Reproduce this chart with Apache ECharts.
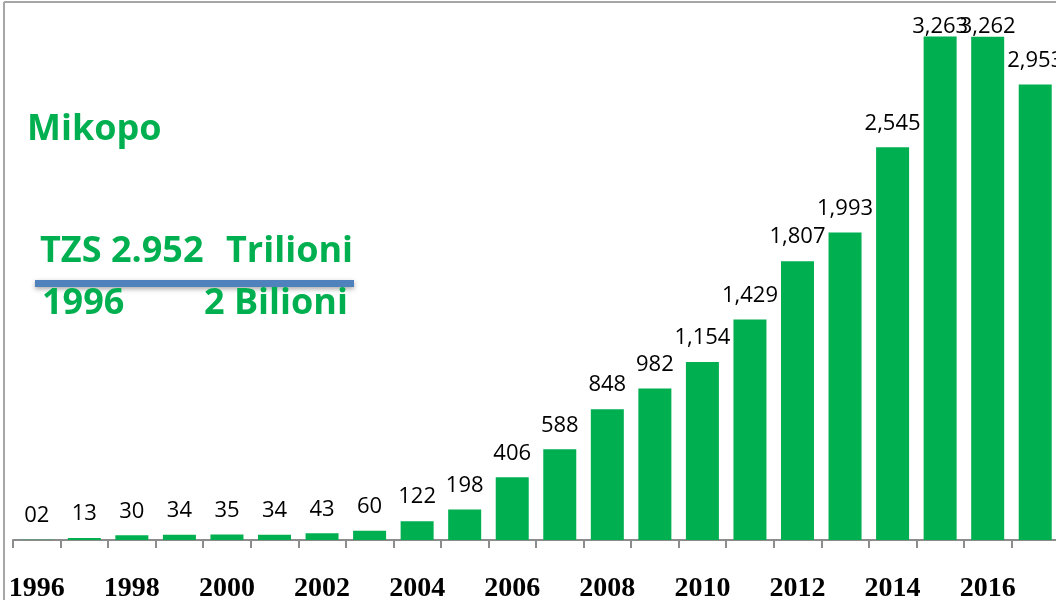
<!DOCTYPE html>
<html>
<head>
<meta charset="utf-8">
<script src="https://cdn.jsdelivr.net/npm/echarts@6/dist/echarts.min.js"></script>
<style>
html,body{margin:0;padding:0;background:#fff;}
#chart{width:1056px;height:600px;}
</style>
</head>
<body>
<div id="chart"></div>
<script>
const years = ['1996','1997','1998','1999','2000','2001','2002','2003','2004','2005','2006','2007','2008','2009','2010','2011','2012','2013','2014','2015','2016','2017'];
const loans = [2,13,30,34,35,34,43,60,122,198,406,588,848,982,1154,1429,1807,1993,2545,3263,3262,2953];
const titleText = 'Mikopo';
const noteTop = ['TZS 2.952', 'Trilioni'];
const noteBottom = ['1996', '2 Bilioni'];

const green = '#00B050';
const chart = echarts.init(document.getElementById('chart'));

const seriesData = loans.map(v => (v > 3200 ? { value: v, label: { distance: -1 } } : v));
const noteFont = 'bold 36px "Open Sans"';

chart.setOption({
  animation: false,
  grid: { left: 13, right: -3, top: 0, bottom: 60, containLabel: false, outerBoundsMode: 'none' },
  xAxis: {
    type: 'category',
    data: years,
    axisLine: { lineStyle: { color: '#8c8c8c', width: 2 } },
    axisTick: { show: true, interval: 0, length: 8, lineStyle: { color: '#8c8c8c', width: 2 } },
    axisLabel: {
      interval: 1,
      margin: 35,
      color: '#000',
      fontFamily: 'Liberation Serif',
      fontWeight: 'bold',
      fontSize: 28
    }
  },
  yAxis: {
    type: 'value',
    min: 0,
    max: 3500,
    show: false
  },
  series: [{
    type: 'bar',
    data: seriesData,
    barWidth: 33,
    itemStyle: { color: green },
    label: {
      show: true,
      position: 'top',
      distance: 13,
      color: '#000',
      fontFamily: 'Open Sans',
      fontSize: 22,
      formatter: p => (p.value < 10 ? '0' + p.value : p.value.toLocaleString('en-US'))
    }
  }],
  graphic: [
    { type: 'line', shape: { x1: 4, y1: 2, x2: 4, y2: 600 }, style: { stroke: '#a6a6a6', lineWidth: 2 } },
    { type: 'line', shape: { x1: 4, y1: 2, x2: 1056, y2: 2 }, style: { stroke: '#a6a6a6', lineWidth: 2 } },
    { type: 'text', x: 27, y: 112, style: { text: titleText, fill: green, font: noteFont, textVerticalAlign: 'top' } },
    { type: 'text', x: 40, y: 234, style: { text: noteTop[0], fill: green, font: noteFont, textVerticalAlign: 'top' } },
    { type: 'text', x: 226, y: 234, style: { text: noteTop[1], fill: green, font: noteFont, textVerticalAlign: 'top' } },
    { type: 'rect', shape: { x: 35, y: 280, width: 319, height: 7 }, style: { fill: '#4F81BD', shadowBlur: 5, shadowColor: 'rgba(0,0,0,0.35)', shadowOffsetY: 2 } },
    { type: 'text', x: 42, y: 286, style: { text: noteBottom[0], fill: green, font: noteFont, textVerticalAlign: 'top' } },
    { type: 'text', x: 204, y: 286, style: { text: noteBottom[1], fill: green, font: noteFont, textVerticalAlign: 'top' } }
  ]
});
</script>
</body>
</html>
